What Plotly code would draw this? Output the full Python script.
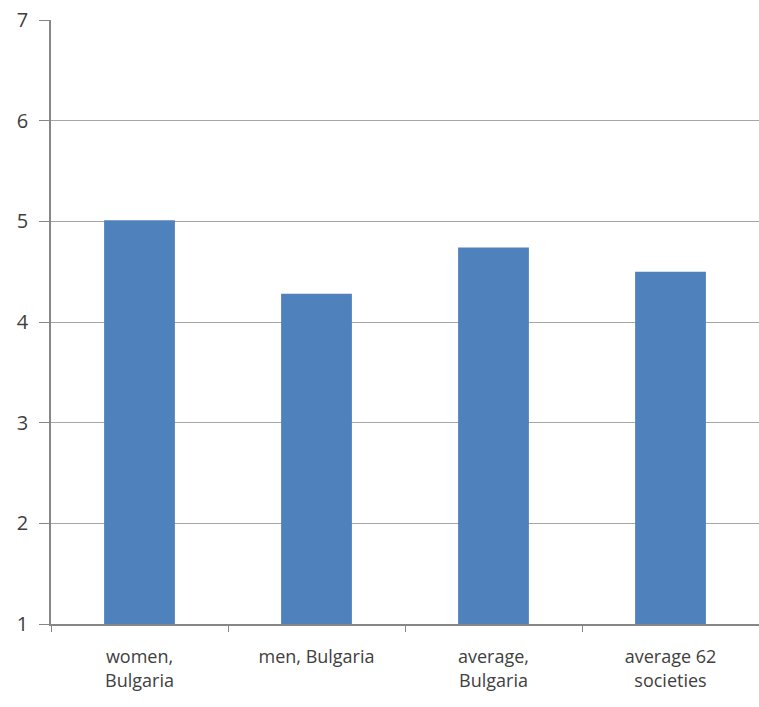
import plotly.graph_objects as go

categories = ["women,<br>Bulgaria", "men, Bulgaria", "average,<br>Bulgaria", "average 62<br>societies"]
values = [5.01, 4.28, 4.74, 4.50]
y_ticks = [1, 2, 3, 4, 5, 6, 7]

fig = go.Figure(go.Bar(
    x=categories, y=values, marker_color="#4f81bd", marker_line_width=0,
))
fig.update_layout(
    width=759, height=707,
    margin=dict(l=51, r=0, t=20, b=83),
    paper_bgcolor="white", plot_bgcolor="white",
    bargap=0.6, showlegend=False,
    font=dict(family="Open Sans, DejaVu Sans", color="#404040"),
)
fig.update_xaxes(
    tickson="boundaries", ticks="outside", ticklen=6, tickcolor="#868686",
    showline=True, linecolor="#868686", linewidth=1.5,
    tickfont=dict(size=18, color="#404040"), showgrid=False,
    ticklabelstandoff=16,
)
fig.update_yaxes(
    range=[1, 7], tickvals=y_ticks, ticks="outside", ticklen=10, tickcolor="#868686",
    showline=True, linecolor="#868686", linewidth=1.5,
    showgrid=True, gridcolor="#a6a6a6", gridwidth=1.3,
    tickfont=dict(size=20, color="#404040"), zeroline=False,
    ticklabelstandoff=7,
)
fig.write_html("out.html")
